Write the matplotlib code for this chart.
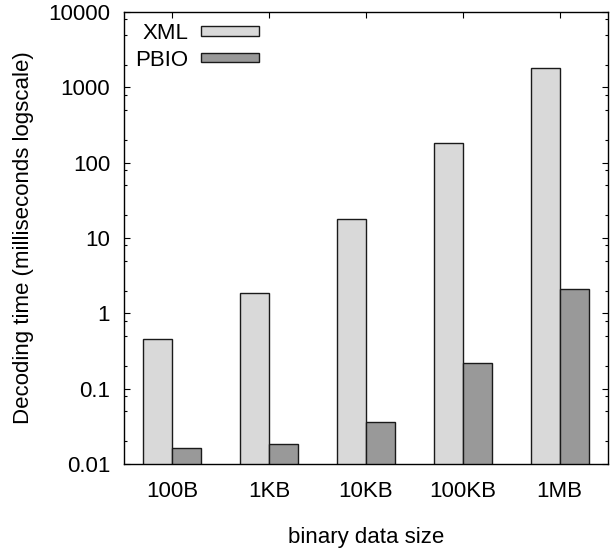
import matplotlib
matplotlib.use("Agg")
import matplotlib.pyplot as plt
import numpy as np
from matplotlib.ticker import LogLocator, NullFormatter, FixedLocator

categories = ["100B", "1KB", "10KB", "100KB", "1MB"]
xml_ms = [0.45, 1.84, 17.8, 182, 1805]
pbio_ms = [0.0164, 0.0187, 0.036, 0.22, 2.08]
series_names = ["XML", "PBIO"]
ytick_vals = [0.01, 0.1, 1, 10, 100, 1000, 10000]
ytick_labels = ["0.01", "0.1", "1", "10", "100", "1000", "10000"]

FONT = ["Liberation Sans", "DejaVu Sans"]
plt.rcParams["font.family"] = FONT
FS = 16

fig = plt.figure(figsize=(6.1, 5.5), dpi=100)
ax = fig.add_axes([124 / 610, 1 - 464 / 550, 484 / 610, 452 / 550])

x = np.arange(len(categories))
w = 0.3
ax.bar(x - w / 2, xml_ms, width=w, color="#d9d9d9", edgecolor="#1a1a1a",
       linewidth=1.0, label=series_names[0], zorder=2)
ax.bar(x + w / 2, pbio_ms, width=w, color="#999999", edgecolor="#1a1a1a",
       linewidth=1.0, label=series_names[1], zorder=2)

ax.set_yscale("log")
ax.set_ylim(0.01, 10000)
ax.set_xlim(-0.5, len(categories) - 0.5)
ax.yaxis.set_major_locator(FixedLocator(ytick_vals))
ax.set_yticklabels(ytick_labels)
ax.yaxis.set_minor_locator(LogLocator(base=10, subs=[2, 5, 8]))
ax.yaxis.set_minor_formatter(NullFormatter())
ax.set_xticks(x)
ax.set_xticklabels(categories)

ax.tick_params(axis="both", which="major", direction="in", length=4.5,
               width=0.8, labelsize=FS, top=True, right=True)
ax.tick_params(axis="y", which="minor", direction="in", length=2.3,
               width=0.8, right=True)
ax.tick_params(axis="x", which="major", pad=12)
ax.tick_params(axis="y", which="major", pad=10)

for s in ax.spines.values():
    s.set_linewidth(1.0)
    s.set_zorder(3)

ax.set_xlabel("binary data size", fontsize=FS, labelpad=18)
ax.set_ylabel("Decoding time (milliseconds logscale)", fontsize=FS, labelpad=10)

leg = ax.legend(loc="upper right", bbox_to_anchor=(259 / 610, 1 - 23 / 550),
                bbox_transform=fig.transFigure, frameon=False, fontsize=FS,
                markerfirst=False, handlelength=2.6, handleheight=0.3,
                handletextpad=0.6, borderpad=0, borderaxespad=0,
                labelspacing=0.25)

fig.savefig("out.png", dpi=100)
